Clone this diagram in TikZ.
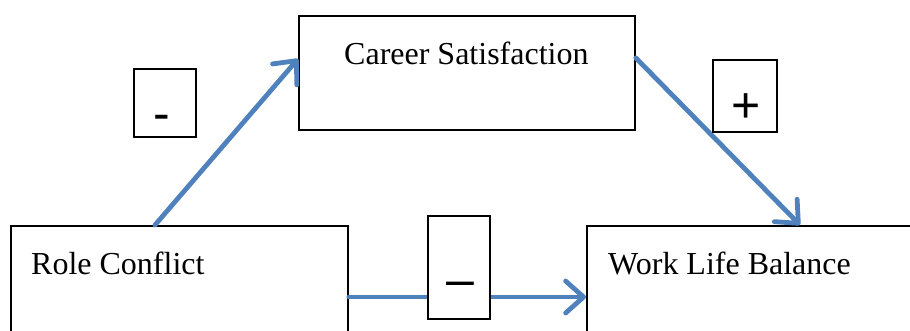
\documentclass[tikz,border=0pt]{standalone}
\usepackage{fontspec}
\setmainfont{Liberation Serif}
\newfontfamily\signfont{Liberation Sans}
\usetikzlibrary{arrows.meta}
\definecolor{arrowblue}{HTML}{4F81BD}
\tikzset{
  box/.style={draw=black, line width=1.8pt, fill=white, inner sep=0pt, anchor=north west},
  lbl/.style={anchor=base west, inner sep=0pt, font=\fontsize{32}{36}\selectfont},
  sign/.style={anchor=base, inner sep=0pt, font=\signfont\fontsize{50}{56}\selectfont},
  link/.style={draw=arrowblue, line width=4.8pt, line cap=round,
    -{Straight Barb[length=18pt,width=32pt,line width=4.8pt,line cap=round,line join=round]}}
}
\begin{document}
\begin{tikzpicture}[x=1pt,y=-1pt]
\useasboundingbox (0,0) rectangle (910,330);
\clip (0,0) rectangle (910,330);
% main boxes
\node[box, minimum width=337pt, minimum height=130pt] (rc) at (10,225) {};
\node[box, minimum width=340pt, minimum height=130pt] (wlb) at (586,225) {};
\node[box, minimum width=336pt, minimum height=114pt] (cs) at (298,15) {};
% box texts
\node[lbl] (rct) at (31,274) {Role Conflict};
\node[lbl] (wlbt) at (608,274) {Work Life Balance};
\node[lbl] (cst) at (344,64) {Career Satisfaction};
% connectors
\draw[link] ([xshift=145pt]rc.north west) -- ([yshift=14pt]cs.west);
\draw[link] ([yshift=15pt]cs.east) -- ([xshift=214pt]wlb.north west);
\draw[link] ([yshift=-72pt]rc.north east) -- ([yshift=-72pt]wlb.north west);
% sign boxes
\node[box, minimum width=62pt, minimum height=68pt] (s1) at (133,68) {};
\node[box, minimum width=64pt, minimum height=72pt] (s2) at (712,59) {};
\node[box, minimum width=62pt, minimum height=103pt] (s3) at (427,215) {};
\node[sign] (s1t) at (161.5,130.5) {-};
\node[sign] (s2t) at (746.5,122.5) {+};
\node[sign] (s3t) at (460,296.5) {–};
\end{tikzpicture}
\end{document}
